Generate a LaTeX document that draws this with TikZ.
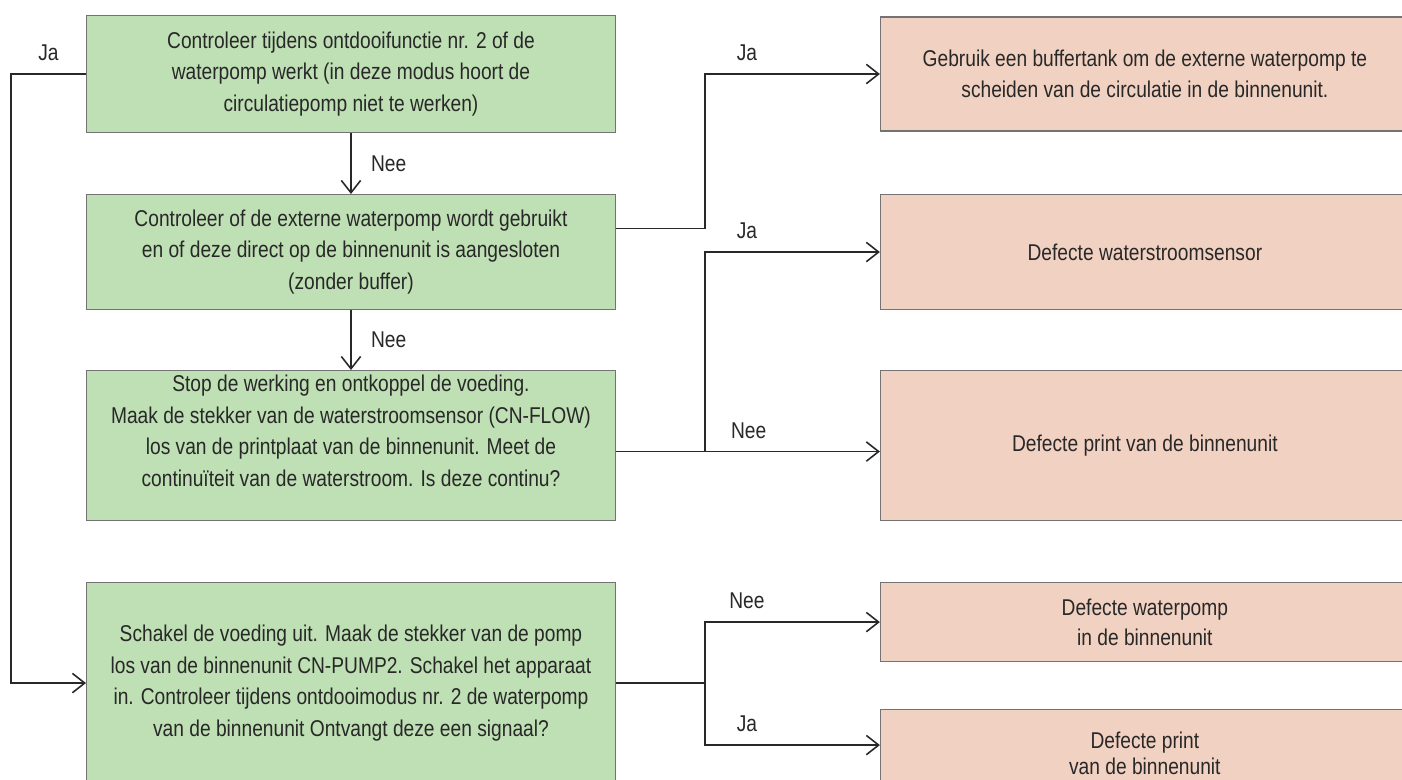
\documentclass[tikz,border=0pt]{standalone}
\usepackage{fontspec}
\setmainfont[FakeStretch=0.84]{Liberation Sans}
\usetikzlibrary{arrows.meta}
\usetikzlibrary{positioning}
\usepackage{xcolor}
\definecolor{checkgreen}{RGB}{191,223,180}
\definecolor{faultpink}{RGB}{241,209,193}
\definecolor{inkgray}{RGB}{40,40,40}

\begin{document}
\begin{tikzpicture}[x=0.02cm, y=-0.02cm, >={Straight Barb[length=7pt,width=11pt]},
  every node/.style={text=inkgray, font=\fontsize{13}{18}\selectfont},
  check/.style={draw=black!55, line width=0.6pt, fill=checkgreen, minimum width=10.58cm, align=center, inner sep=0pt},
  fault/.style={draw=black!55, line width=0.6pt, fill=faultpink, minimum width=10.58cm, align=center, inner sep=0pt},
  lbl/.style={inner sep=3pt},
  wire/.style={line width=0.9pt, draw=inkgray},
  flow/.style={wire, ->}]
  \useasboundingbox (0,0) rectangle (1402,780);

  % Checks on the left
  \node[check, minimum height=2.34cm, anchor=north west] (c1) at (86,15)
    {Controleer tijdens ontdooifunctie nr. 2 of de\\waterpomp werkt (in deze modus hoort de\\circulatiepomp niet te werken)};
  \node[check, minimum height=2.3cm] (c2) [below=1.22cm of c1]
    {Controleer of de externe waterpomp wordt gebruikt\\en of deze direct op de binnenunit is aangesloten\\(zonder buffer)};
  \node[check, minimum height=3cm, text depth=0.6cm] (c3) [below=1.2cm of c2]
    {Stop de werking en ontkoppel de voeding.\\Maak de stekker van de waterstroomsensor (CN-FLOW)\\los van de printplaat van de binnenunit. Meet de\\continuïteit van de waterstroom. Is deze continu?};
  \node[check, minimum height=4.02cm] (c4) [below=1.22cm of c3]
    {Schakel de voeding uit. Maak de stekker van de pomp\\los van de binnenunit CN-PUMP2. Schakel het apparaat\\in. Controleer tijdens ontdooimodus nr. 2 de waterpomp\\van de binnenunit Ontvangt deze een signaal?};

  % Faults on the right
  \node[fault, minimum height=2.28cm] (f1) [right=5.28cm of c1]
    {Gebruik een buffertank om de externe waterpomp te\\scheiden van de circulatie in de binnenunit.};
  \node[fault, minimum height=2.3cm] (f2) [right=5.28cm of c2] {Defecte waterstroomsensor};
  \node[fault, minimum height=3cm] (f3) [right=5.28cm of c3] {Defecte print van de binnenunit};
  \node[fault, minimum height=1.58cm] (f4) [right=5.28cm of c4.north east, anchor=north west]
    {Defecte waterpomp\\[-1pt]in de binnenunit};
  \node[fault, minimum height=1.75cm] (f5) [below=0.94cm of f4]
    {Defecte print\\[-3pt]van de binnenunit};

  \coordinate (j2) at ([xshift=1.78cm, yshift=-0.12cm]c3.east);
  \coordinate (j3) at ([xshift=1.78cm]c4.east);

  \draw[flow] (c1.west) -- node[lbl, above=4pt] {Ja} ++(-1.5cm,0) |- (c4);
  \draw[flow] (c1) -- node[lbl, right=8pt] {Nee} (c2);
  \draw[flow] (c2) -- node[lbl, right=8pt] {Nee} (c3);
  \draw[flow] ([yshift=0.47cm]c2.east) -- ++(1.78cm,0) |- node[lbl, above=4pt, pos=0.62] {Ja} (f1);

  \draw[wire] ([yshift=-0.12cm]c3.east) -- (j2);
  \draw[flow] (j2) -- node[lbl, above=4pt, pos=0.25] {Nee} (j2 -| f3.west);
  \draw[flow] (j2) |- node[lbl, above=4pt, pos=0.62] {Ja} (f2);

  \draw[wire] (c4) -- (j3);
  \draw[flow] (j3) |- node[lbl, above=4pt, pos=0.62] {Nee} (f4);
  \draw[flow] (j3) |- node[lbl, above=4pt, pos=0.62] {Ja} ([yshift=-0.72cm]f5.north west);
\end{tikzpicture}
\end{document}
